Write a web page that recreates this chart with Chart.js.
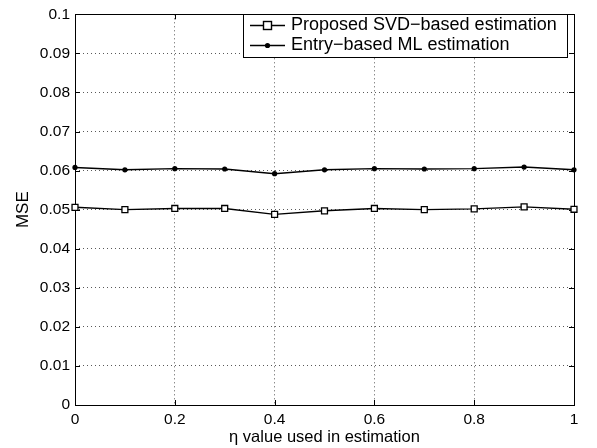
<!DOCTYPE html>
<html>
<head>
<meta charset="utf-8">
<script src="https://cdn.jsdelivr.net/npm/chart.js@4/dist/chart.umd.min.js"></script>
<style>
  html, body { margin: 0; padding: 0; background: #fff; }
  #wrap { width: 597px; height: 448px; }
</style>
</head>
<body>
<div id="wrap"><canvas id="mseChart" width="597" height="448"></canvas></div>
<script>
// eta values on the x axis
const etaValues = [0, 0.1, 0.2, 0.3, 0.4, 0.5, 0.6, 0.7, 0.8, 0.9, 1];
// MSE
const svdMse = [0.0506, 0.0500, 0.0503, 0.0503, 0.0488, 0.0497, 0.0503, 0.0500, 0.0502, 0.0507, 0.0501];
const mlMse = [0.0608, 0.0602, 0.0605, 0.0604, 0.0592, 0.0602, 0.0605, 0.0604, 0.0605, 0.0609, 0.0602];
const seriesLabels = ['Proposed SVD\u2212based estimation', 'Entry\u2212based ML estimation'];
const xTitle = '\u03B7 value used in estimation';
const yTitle = 'MSE';

const FONT = '"Liberation Sans", Arial, Helvetica, sans-serif';

function toPoints(values) {
    return etaValues.map((x, i) => ({ x: x, y: values[i] }));
}

// frame + inward ticks, MATLAB style
const framePlugin = {
    id: 'frame',
    beforeDatasetsDraw(chart) {
        const { ctx, chartArea: a, scales } = chart;
        ctx.save();
        ctx.strokeStyle = '#000';
        ctx.lineWidth = 1;
        ctx.beginPath();
        const len = 5;
        scales.x.ticks.forEach(t => {
            const px = Math.round(scales.x.getPixelForValue(t.value)) + 0.5;
            ctx.moveTo(px, a.bottom); ctx.lineTo(px, a.bottom - len);
            ctx.moveTo(px, a.top); ctx.lineTo(px, a.top + len);
        });
        scales.y.ticks.forEach(t => {
            const py = Math.round(scales.y.getPixelForValue(t.value)) + 0.5;
            ctx.moveTo(a.left, py); ctx.lineTo(a.left + len, py);
            ctx.moveTo(a.right, py); ctx.lineTo(a.right - len, py);
        });
        ctx.stroke();
        ctx.strokeRect(Math.round(a.left) + 0.5, Math.round(a.top) + 0.5,
            Math.round(a.right - a.left), Math.round(a.bottom - a.top));
        ctx.restore();
    }
};

// boxed legend in the top right corner
const legendPlugin = {
    id: 'boxLegend',
    afterDraw(chart) {
        const { ctx } = chart;
        const box = { left: 243, top: 14, right: 567, bottom: 57 };
        const rows = [25, 45];
        ctx.save();
        ctx.fillStyle = '#fff';
        ctx.fillRect(box.left, box.top, box.right - box.left, box.bottom - box.top);
        ctx.strokeStyle = '#000';
        ctx.lineWidth = 1;
        ctx.strokeRect(box.left + 0.5, box.top + 0.5, box.right - box.left, box.bottom - box.top);

        chart.data.datasets.forEach((ds, i) => {
            const y = rows[i] + 0.5;
            ctx.strokeStyle = '#000';
            ctx.lineWidth = 1.4;
            ctx.beginPath();
            ctx.moveTo(250, y);
            ctx.lineTo(285, y);
            ctx.stroke();
            if (ds.pointStyle === 'rect') {
                ctx.fillStyle = '#fff';
                ctx.fillRect(263.5, y - 4, 8, 8);
                ctx.strokeRect(263.5, y - 4, 8, 8);
            } else {
                ctx.fillStyle = '#000';
                ctx.beginPath();
                ctx.arc(267.5, y, 2.6, 0, Math.PI * 2);
                ctx.fill();
            }
            ctx.fillStyle = '#000';
            ctx.font = '18px ' + FONT;
            ctx.textBaseline = 'middle';
            ctx.textAlign = 'left';
            ctx.fillText(ds.label, 291, y);
        });
        ctx.restore();
    }
};

const ctx = document.getElementById('mseChart');
new Chart(ctx, {
    type: 'line',
    data: {
        datasets: [
            {
                label: seriesLabels[0],
                data: toPoints(svdMse),
                borderColor: '#000',
                borderWidth: 1.4,
                pointStyle: 'rect',
                pointRadius: 4.2,
                pointBorderWidth: 1.3,
                pointBackgroundColor: '#fff',
                pointBorderColor: '#000',
                tension: 0,
                clip: false
            },
            {
                label: seriesLabels[1],
                data: toPoints(mlMse),
                borderColor: '#000',
                borderWidth: 1.4,
                pointStyle: 'circle',
                pointRadius: 2.6,
                pointBorderWidth: 0,
                pointBackgroundColor: '#000',
                tension: 0,
                clip: false
            }
        ]
    },
    options: {
        responsive: false,
        animation: false,
        events: [],
        layout: { padding: { top: 7, right: 23, left: 0, bottom: 0 } },
        plugins: {
            legend: { display: false },
            tooltip: { enabled: false }
        },
        scales: {
            x: {
                type: 'linear',
                min: 0,
                max: 1,
                afterFit(scale) { scale.height = 43; },
                ticks: {
                    stepSize: 0.2,
                    padding: 5,
                    color: '#000',
                    font: { family: FONT, size: 15.5 },
                    maxRotation: 0,
                    callback: v => String(Number(v.toFixed(1)))
                },
                grid: {
                    color: 'rgba(0,0,0,0.65)',
                    lineWidth: 1,
                    drawTicks: false
                },
                border: { display: false, dash: [1, 3] },
                title: {
                    display: true,
                    text: xTitle,
                    color: '#000',
                    font: { family: FONT, size: 16.5 },
                    padding: { top: 0, bottom: 1 }
                }
            },
            y: {
                min: 0,
                max: 0.1,
                afterFit(scale) { scale.width = 75; },
                ticks: {
                    stepSize: 0.01,
                    padding: 5,
                    color: '#000',
                    font: { family: FONT, size: 15.5 },
                    callback: v => String(Number(v.toFixed(2)))
                },
                grid: {
                    color: 'rgba(0,0,0,0.65)',
                    lineWidth: 1,
                    drawTicks: false
                },
                border: { display: false, dash: [1, 3] },
                title: {
                    display: true,
                    text: yTitle,
                    color: '#000',
                    font: { family: FONT, size: 17 },
                    padding: { top: 13, bottom: 0 }
                }
            }
        }
    },
    plugins: [framePlugin, legendPlugin]
});
</script>
</body>
</html>
